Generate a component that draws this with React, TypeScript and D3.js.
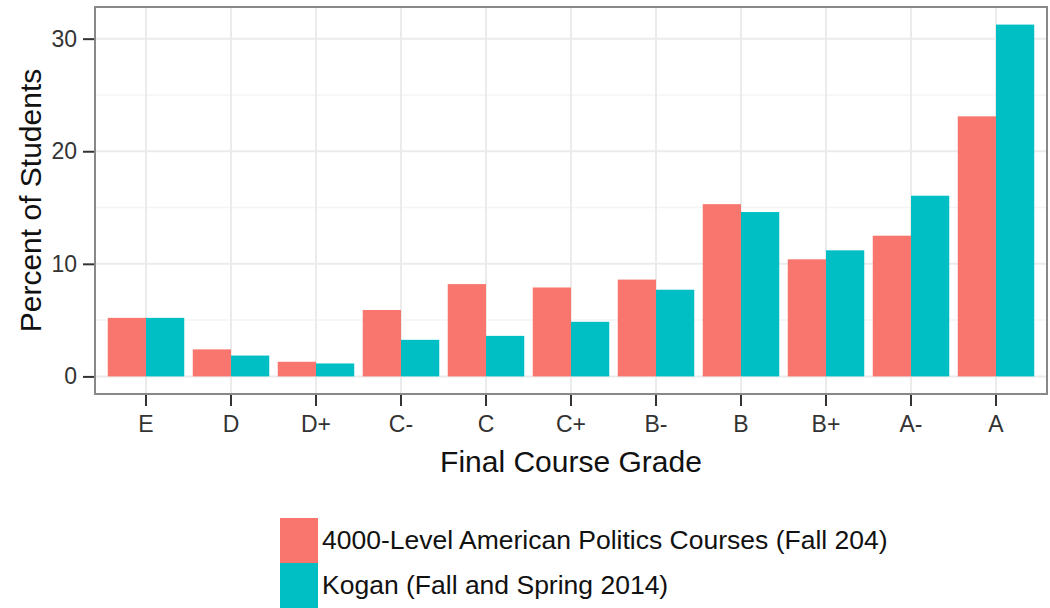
import React, { useRef, useEffect } from 'react'
import * as d3 from 'd3'

const grades = ['E', 'D', 'D+', 'C-', 'C', 'C+', 'B-', 'B', 'B+', 'A-', 'A']
const politics = [5.2, 2.4, 1.3, 5.9, 8.2, 7.9, 8.6, 15.3, 10.4, 12.5, 23.1]
const kogan = [5.2, 1.85, 1.15, 3.25, 3.6, 4.85, 7.7, 14.6, 11.2, 16.05, 31.25]
const seriesNames = ['4000-Level American Politics Courses (Fall 204)', 'Kogan (Fall and Spring 2014)']
const colors = ['#F8766D', '#00BFC4']
const yTicks = [0, 10, 20, 30]

const W = 1050
const H = 608
const FONT = '"Liberation Sans", Arial, sans-serif'

const App = () => {
	const svgRef = useRef<SVGSVGElement>(null)

	useEffect(() => {
		document.body.style.margin = '0'
		const svg = d3.select(svgRef.current)
		svg.selectAll('*').remove()

		const panel = { left: 95, right: 1047, top: 7, bottom: 394 }

		// ggplot-like expansion
		const maxV = d3.max([...politics, ...kogan]) as number
		const pad = maxV * 0.05
		const y = d3.scaleLinear().domain([-pad, maxV + pad]).range([panel.bottom, panel.top])

		const unit = (panel.right - panel.left) / (grades.length + 0.2)
		const x = d3
			.scaleBand()
			.domain(grades)
			.range([panel.left + 0.1 * unit, panel.right - 0.1 * unit])
			.paddingInner(0)
			.paddingOuter(0)
		const barW = unit * 0.45

		const g = svg.append('g')

		g.append('rect')
			.attr('x', panel.left)
			.attr('y', panel.top)
			.attr('width', panel.right - panel.left)
			.attr('height', panel.bottom - panel.top)
			.attr('fill', '#fff')

		// minor grid
		const minor = d3.range(5, maxV + pad, 10)
		g.selectAll('.minor')
			.data(minor)
			.enter()
			.append('line')
			.attr('x1', panel.left)
			.attr('x2', panel.right)
			.attr('y1', d => y(d))
			.attr('y2', d => y(d))
			.attr('stroke', '#f4f4f4')
			.attr('stroke-width', 1.5)

		// major grid
		g.selectAll('.hmajor')
			.data(yTicks)
			.enter()
			.append('line')
			.attr('x1', panel.left)
			.attr('x2', panel.right)
			.attr('y1', d => y(d))
			.attr('y2', d => y(d))
			.attr('stroke', '#ebebeb')
			.attr('stroke-width', 2)
		g.selectAll('.vmajor')
			.data(grades)
			.enter()
			.append('line')
			.attr('x1', d => (x(d) as number) + unit / 2)
			.attr('x2', d => (x(d) as number) + unit / 2)
			.attr('y1', panel.top)
			.attr('y2', panel.bottom)
			.attr('stroke', '#ebebeb')
			.attr('stroke-width', 2)

		// bars
		const series = [politics, kogan]
		series.forEach((vals, si) => {
			g.selectAll(`.bar${si}`)
				.data(vals)
				.enter()
				.append('rect')
				.attr('x', (d, i) => (x(grades[i]) as number) + unit * 0.05 + si * barW)
				.attr('y', d => y(d))
				.attr('width', barW)
				.attr('height', d => y(0) - y(d))
				.attr('fill', colors[si])
		})

		// border
		g.append('rect')
			.attr('x', panel.left)
			.attr('y', panel.top)
			.attr('width', panel.right - panel.left)
			.attr('height', panel.bottom - panel.top)
			.attr('fill', 'none')
			.attr('stroke', '#888')
			.attr('stroke-width', 2)

		// y axis
		const yAxis = d3.axisLeft(y).tickValues(yTicks).tickSize(11).tickPadding(6)
		const ya = g.append('g').attr('transform', `translate(${panel.left - 1},0)`).call(yAxis)
		ya.select('.domain').remove()
		ya.selectAll('line').attr('stroke', '#333').attr('stroke-width', 2)
		ya.selectAll('text').attr('font-family', FONT).attr('font-size', 23).attr('fill', '#333')

		// x axis
		const xAxis = d3.axisBottom(x).tickSize(11).tickPadding(10)
		const xa = g.append('g').attr('transform', `translate(0,${panel.bottom + 1})`).call(xAxis)
		xa.select('.domain').remove()
		xa.selectAll('line').attr('stroke', '#333').attr('stroke-width', 2)
		xa.selectAll('text').attr('font-family', FONT).attr('font-size', 23).attr('fill', '#333')

		// titles
		g.append('text')
			.attr('x', (panel.left + panel.right) / 2)
			.attr('y', 472)
			.attr('text-anchor', 'middle')
			.attr('font-family', FONT)
			.attr('font-size', 30)
			.attr('fill', '#111')
			.text('Final Course Grade')
		g.append('text')
			.attr('transform', `translate(41,${(panel.top + panel.bottom) / 2}) rotate(-90)`)
			.attr('text-anchor', 'middle')
			.attr('font-family', FONT)
			.attr('font-size', 30)
			.attr('fill', '#111')
			.text('Percent of Students')

		// legend
		const lg = g.append('g').attr('transform', 'translate(280,518)')
		seriesNames.forEach((name, i) => {
			lg.append('rect')
				.attr('x', 0)
				.attr('y', i * 45)
				.attr('width', 38)
				.attr('height', 45)
				.attr('fill', colors[i])
			lg.append('text')
				.attr('x', 42)
				.attr('y', i * 45 + 31)
				.attr('font-family', FONT)
				.attr('font-size', 26.5)
				.attr('fill', '#111')
				.text(name)
		})
	}, [])

	return <svg ref={svgRef} width={W} height={H} style={{ display: 'block' }}></svg>
}

export default App
